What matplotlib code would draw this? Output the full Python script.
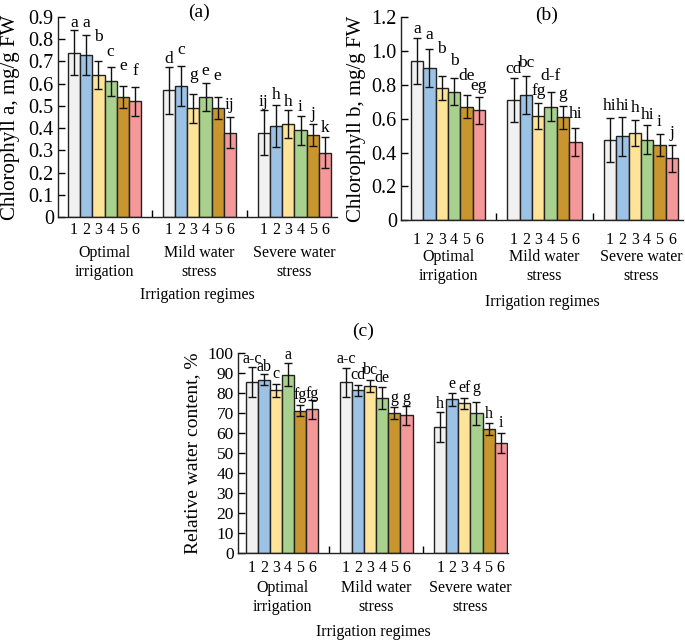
import matplotlib.pyplot as plt
from matplotlib.ticker import FuncFormatter

plt.rcParams['font.family'] = ['Liberation Serif', 'DejaVu Serif']

# -------------- DATA --------------
groups = [("Optimal", "irrigation"), ("Mild water", "stress"), ("Severe water", "stress")]
treatments = ["1", "2", "3", "4", "5", "6"]
colors = ["#f1f1f1", "#9cc3e5", "#fde499", "#a8d18e", "#c9952e", "#f4989a"]

# chlorophyll a, mg/g FW (one list per irrigation regime)
chl_a = [[0.74, 0.73, 0.64, 0.61, 0.54, 0.52],
         [0.57, 0.59, 0.49, 0.54, 0.49, 0.38],
         [0.38, 0.41, 0.42, 0.39, 0.37, 0.29]]
chl_a_err = [[0.10, 0.09, 0.063, 0.065, 0.05, 0.065],
             [0.105, 0.09, 0.065, 0.063, 0.05, 0.068],
             [0.10, 0.095, 0.063, 0.065, 0.05, 0.068]]
chl_a_let = [["a", "a", "b", "c", "e", "f"],
             ["d", "c", "g", "e", "e", "ij"],
             ["ij", "h", "h", "i", "j", "k"]]

# chlorophyll b, mg/g FW
chl_b = [[0.94, 0.90, 0.78, 0.76, 0.67, 0.65],
         [0.71, 0.74, 0.615, 0.67, 0.61, 0.465],
         [0.475, 0.495, 0.515, 0.475, 0.445, 0.365]]
chl_b_err = [[0.135, 0.115, 0.07, 0.08, 0.068, 0.08],
             [0.13, 0.115, 0.075, 0.085, 0.068, 0.083],
             [0.13, 0.115, 0.078, 0.085, 0.065, 0.08]]
chl_b_let = [["a", "a", "b", "b", "de", "eg"],
             ["cd", "bc", "fg", "d-f", "g", "hi"],
             ["hi", "hi", "h", "hi", "i", "j"]]

# relative water content, %
rwc = [[85.5, 86.7, 81.3, 89.2, 71.2, 71.8],
       [85.3, 81.3, 83.7, 77.5, 70.2, 68.8],
       [63.0, 76.8, 74.8, 69.8, 62.0, 55.0]]
rwc_err = [[7.3, 2.7, 3.3, 5.6, 2.7, 4.7],
           [7.4, 2.8, 3.0, 5.5, 3.0, 4.7],
           [7.3, 3.1, 2.8, 5.8, 3.0, 5.0]]
rwc_let = [["a-c", "ab", "c", "a", "fg", "fg"],
           ["a-c", "cd", "bc", "de", "g", "g"],
           ["h", "e", "ef", "g", "h", "i"]]

# -------------- LAYOUT --------------
# gap (px) between the top of an error bar and the baseline of its letter
a_lift = [[3.3, 7.7, 20, 10.7, 15.7, 11.7],
          [3.7, 11.7, 15, 8.3, 17, 8.7],
          [4.3, 5.7, 3.3, 5.3, 5.7, 5]]
b_lift = [[5.7, 9.7, 23, 13, 15.7, 6.7],
          [5, 8.3, 8.3, 12, 7.7, 10],
          [7.7, 7.3, 8.3, 6.7, 8.3, 8.3]]
c_lift = [[4, 3.3, 5.7, 4, 6.7, 2.3],
          [5, 6.3, 6, 4.7, 5, 4],
          [4, 5, 6, 10, 5.3, 6]]

GROUP_STEP = 7.8
PX = 0.72  # points per pixel at dpi 100


def fmt(v, pos):
    if abs(v) < 1e-9:
        return "0"
    return "%g" % v if v >= 10 else "%.1f" % v


def panel(rect, vals, errs, letters, lifts, ylim, yticks, xlim, tick_fs, offs,
          let_fs):
    ax = fig.add_axes(rect)
    centers = []
    for g in range(len(groups)):
        xs = [g * GROUP_STEP + i for i in range(len(treatments))]
        centers.append(sum(xs) / len(xs))
        ax.bar(xs, vals[g], width=1.0, color=colors, edgecolor="#222222",
               linewidth=1.0, zorder=2)
        ax.errorbar(xs, vals[g], yerr=errs[g], fmt="none", ecolor="#111111",
                    elinewidth=1.0, capsize=3, capthick=1.0, zorder=3)
        for x, v, e, lab, lift in zip(xs, vals[g], errs[g], letters[g], lifts[g]):
            ax.annotate(lab, (x, v + e), xytext=(0, lift * PX),
                        textcoords="offset points",
                        ha="center", va="baseline", fontsize=let_fs)
        for x, t in zip(xs, treatments):
            ax.annotate(t, (x, 0), xycoords=("data", "axes fraction"),
                        xytext=(0, -offs[0] * PX), textcoords="offset points",
                        ha="center", va="center", fontsize=11.5)
        ax.annotate(groups[g][0], (centers[-1], 0), xycoords=("data", "axes fraction"),
                    xytext=(0, -offs[1] * PX), textcoords="offset points",
                    ha="center", va="center", fontsize=11.5)
        ax.annotate(groups[g][1], (centers[-1], 0), xycoords=("data", "axes fraction"),
                    xytext=(0, -offs[2] * PX), textcoords="offset points",
                    ha="center", va="center", fontsize=11.5)
    ax.annotate("Irrigation regimes", (0.5, 0), xycoords="axes fraction",
                xytext=(0, -offs[3] * PX), textcoords="offset points",
                ha="center", va="center", fontsize=11.5)

    ax.set_xlim(*xlim)
    ax.set_ylim(*ylim)
    ax.set_yticks(yticks)
    ax.yaxis.set_major_formatter(FuncFormatter(fmt))
    seps = [(centers[i] + centers[i + 1]) / 2 for i in range(len(centers) - 1)]
    ax.set_xticks(seps)
    ax.set_xticklabels([])
    ax.tick_params(axis="x", direction="in", length=5, width=1)
    ax.tick_params(axis="y", direction="in", length=5, width=1,
                   labelsize=tick_fs, pad=3)
    for s in ["top", "right"]:
        ax.spines[s].set_visible(False)
    for s in ["left", "bottom"]:
        ax.spines[s].set_linewidth(1.0)
        ax.spines[s].set_color("#222222")
    return ax


fig = plt.figure(figsize=(6.85, 6.42), dpi=100)

panel([0.0847, 0.662, 0.4073, 0.3115], chl_a, chl_a_err, chl_a_let, a_lift,
      (0, 0.9), [i / 10 for i in range(10)], (-1.32, 21.6),
      14.5, (13, 36, 55, 78), 12.5)
panel([0.5854, 0.657, 0.4117, 0.3162], chl_b, chl_b_err, chl_b_let, b_lift,
      (0, 1.2), [0, 0.2, 0.4, 0.6, 0.8, 1.0, 1.2], (-1.3, 21.5),
      14.5, (20, 37, 56, 82), 12.5)
panel([0.3474, 0.1386, 0.394, 0.3115], rwc, rwc_err, rwc_let, c_lift,
      (0, 100), list(range(0, 101, 10)), (-1.16, 21.2),
      12.5, (15, 35, 54, 79), 11.5)

# axis titles and panel labels placed in figure pixels
W, H = 685, 642
fig.text(11 / W, 1 - 117 / H, "Chlorophyll a, mg/g FW", rotation=90,
         ha="center", va="center", fontsize=15)
fig.text(356 / W, 1 - 119 / H, "Chlorophyll b, mg/g FW", rotation=90,
         ha="center", va="center", fontsize=15)
fig.text(193 / W, 1 - 453 / H, "Relative water content, %", rotation=90,
         ha="center", va="center", fontsize=14)
fig.text(199 / W, 1 - 12 / H, "(a)", ha="center", va="center", fontsize=14)
fig.text(547 / W, 1 - 15 / H, "(b)", ha="center", va="center", fontsize=14)
fig.text(363 / W, 1 - 331 / H, "(c)", ha="center", va="center", fontsize=14)

fig.savefig("out.png", dpi=100)
